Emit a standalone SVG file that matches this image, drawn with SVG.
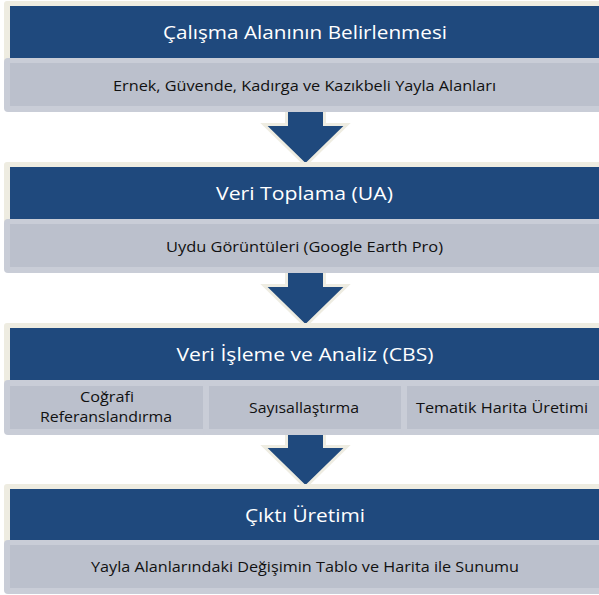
<svg xmlns="http://www.w3.org/2000/svg" width="599" height="595" viewBox="0 0 599 595">
<defs>
<style>
.frame{fill:#EEECE1}
.head{fill:#1F497D}
.gout{fill:#C9CDD7}
.gin{fill:#BBC0CC}
.arrow{fill:#1F497D;stroke:#EEECE1;stroke-width:3;stroke-linejoin:miter}
.t{font-family:"Open Sans","Noto Sans","DejaVu Sans",sans-serif;fill:#FFFFFF;font-size:18px;text-anchor:middle}
.s{font-family:"Open Sans","Noto Sans","DejaVu Sans",sans-serif;fill:#111111;font-size:14.5px;text-anchor:middle}
</style>
</defs>
<rect width="599" height="595" fill="#FFFFFF"/>
<g id="connectors">
<polygon class="arrow" points="286.5,108 286.5,124.5 264,124.5 305.5,165 347,124.5 324.5,124.5 324.5,108"/>
<polygon class="arrow" points="286.5,269 286.5,285.5 264,285.5 305.5,326 347,285.5 324.5,285.5 324.5,269"/>
<polygon class="arrow" points="286.5,430 286.5,446.5 264,446.5 305.5,487 347,446.5 324.5,446.5 324.5,430"/>
</g>
<g id="step1">
<rect class="frame" x="4" y="1" width="610" height="62" rx="3"/>
<rect class="head" x="10" y="6" width="600" height="52"/>
<text class="t" x="305" y="39" textLength="284" lengthAdjust="spacingAndGlyphs">Çalışma Alanının Belirlenmesi</text>
</g>
<g id="step1-detail">
<rect class="gout" x="4" y="58" width="610" height="54" rx="4"/>
<rect class="gin" x="10" y="63" width="600" height="43"/>
<text class="s" x="304.5" y="91" textLength="383" lengthAdjust="spacingAndGlyphs">Ernek, Güvende, Kadırga ve Kazıkbeli Yayla Alanları</text>
</g>
<g id="step2">
<rect class="frame" x="4" y="162" width="610" height="62" rx="3"/>
<rect class="head" x="10" y="167" width="600" height="52"/>
<text class="t" x="304.5" y="200" textLength="177" lengthAdjust="spacingAndGlyphs">Veri Toplama (UA)</text>
</g>
<g id="step2-detail">
<rect class="gout" x="4" y="219" width="610" height="54" rx="4"/>
<rect class="gin" x="10" y="224" width="600" height="43"/>
<text class="s" x="304.5" y="252" textLength="277" lengthAdjust="spacingAndGlyphs">Uydu Görüntüleri (Google Earth Pro)</text>
</g>
<g id="step3">
<rect class="frame" x="4" y="323" width="610" height="62" rx="3"/>
<rect class="head" x="10" y="328" width="600" height="52"/>
<text class="t" x="305" y="361" textLength="257" lengthAdjust="spacingAndGlyphs">Veri İşleme ve Analiz (CBS)</text>
</g>
<g id="step3-georef">
<rect class="gout" x="4" y="380" width="205" height="55" rx="4"/>
<rect class="gin" x="10" y="386" width="193" height="43"/>
<text class="s" x="107" y="402" textLength="54" lengthAdjust="spacingAndGlyphs">Coğrafi</text>
<text class="s" x="106" y="422" textLength="132" lengthAdjust="spacingAndGlyphs">Referanslandırma</text>
</g>
<g id="step3-digitize">
<rect class="gout" x="203" y="380" width="204" height="55" rx="4"/>
<rect class="gin" x="209" y="386" width="192" height="43"/>
<text class="s" x="304" y="413" textLength="110" lengthAdjust="spacingAndGlyphs">Sayısallaştırma</text>
</g>
<g id="step3-thematic">
<rect class="gout" x="401" y="380" width="210" height="55" rx="4"/>
<rect class="gin" x="407" y="386" width="200" height="43"/>
<text class="s" x="502" y="413" textLength="172" lengthAdjust="spacingAndGlyphs">Tematik Harita Üretimi</text>
</g>
<g id="step4">
<rect class="frame" x="4" y="484" width="610" height="62" rx="3"/>
<rect class="head" x="10" y="489" width="600" height="52"/>
<text class="t" x="305" y="522" textLength="120" lengthAdjust="spacingAndGlyphs">Çıktı Üretimi</text>
</g>
<g id="step4-detail">
<rect class="gout" x="4" y="540" width="610" height="54" rx="4"/>
<rect class="gin" x="10" y="545" width="600" height="43"/>
<text class="s" x="305" y="572" textLength="428" lengthAdjust="spacingAndGlyphs">Yayla Alanlarındaki Değişimin Tablo ve Harita ile Sunumu</text>
</g>
</svg>
